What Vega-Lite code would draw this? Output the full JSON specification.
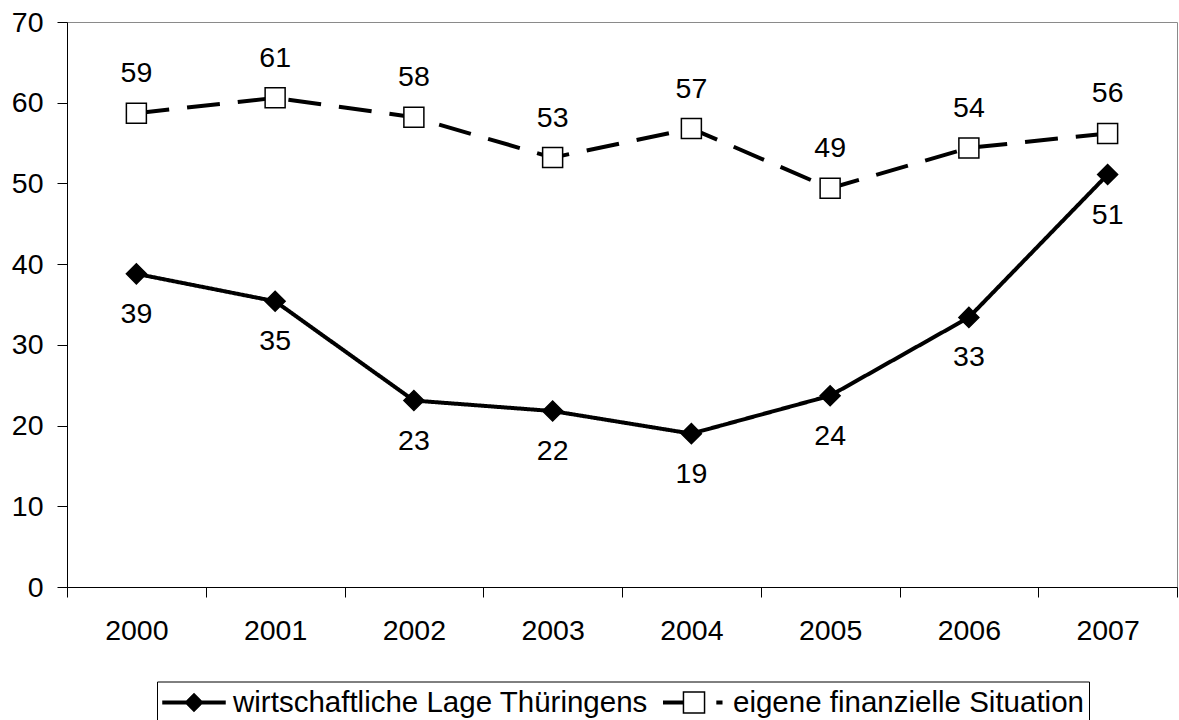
{
  "$schema": "https://vega.github.io/schema/vega-lite/v6.json",
  "width": 1110,
  "height": 565,
  "autosize": "none",
  "padding": {"left": 67, "top": 22, "right": 2, "bottom": 133},
  "background": "white",
  "config": {
    "font": "Liberation Sans",
    "view": {"stroke": "#8a8a8a", "strokeWidth": 1}
  },
  "data": {
    "values": [
      {"year": "2000", "series": "wirtschaftliche Lage Thüringens", "value": 38.8},
      {"year": "2001", "series": "wirtschaftliche Lage Thüringens", "value": 35.4},
      {"year": "2002", "series": "wirtschaftliche Lage Thüringens", "value": 23.1},
      {"year": "2003", "series": "wirtschaftliche Lage Thüringens", "value": 21.8},
      {"year": "2004", "series": "wirtschaftliche Lage Thüringens", "value": 19.0},
      {"year": "2005", "series": "wirtschaftliche Lage Thüringens", "value": 23.7},
      {"year": "2006", "series": "wirtschaftliche Lage Thüringens", "value": 33.4},
      {"year": "2007", "series": "wirtschaftliche Lage Thüringens", "value": 51.1},
      {"year": "2000", "series": "eigene finanzielle Situation", "value": 58.7},
      {"year": "2001", "series": "eigene finanzielle Situation", "value": 60.6},
      {"year": "2002", "series": "eigene finanzielle Situation", "value": 58.2},
      {"year": "2003", "series": "eigene finanzielle Situation", "value": 53.2},
      {"year": "2004", "series": "eigene finanzielle Situation", "value": 56.8},
      {"year": "2005", "series": "eigene finanzielle Situation", "value": 49.4},
      {"year": "2006", "series": "eigene finanzielle Situation", "value": 54.4},
      {"year": "2007", "series": "eigene finanzielle Situation", "value": 56.2}
    ]
  },
  "encoding": {
    "x": {
      "field": "year",
      "type": "ordinal",
      "scale": {"type": "band", "paddingInner": 0, "paddingOuter": 0},
      "axis": {
        "title": null,
        "labelAngle": 0,
        "labelFontSize": 28.5,
        "labelColor": "black",
        "labelPadding": 19,
        "tickBand": "extent",
        "tickSize": 10,
        "tickColor": "black",
        "domainColor": "black",
        "grid": false
      }
    },
    "y": {
      "field": "value",
      "type": "quantitative",
      "scale": {"domain": [0, 70], "nice": false},
      "axis": {
        "title": null,
        "values": [0, 10, 20, 30, 40, 50, 60, 70],
        "labelFontSize": 28.5,
        "labelColor": "black",
        "labelPadding": 14,
        "tickSize": 10,
        "tickColor": "black",
        "domainColor": "black",
        "grid": false
      }
    }
  },
  "layer": [
    {
      "mark": {"type": "line", "strokeWidth": 4, "color": "black"},
      "encoding": {
        "strokeDash": {
          "field": "series",
          "type": "nominal",
          "scale": {
            "domain": ["wirtschaftliche Lage Thüringens", "eigene finanzielle Situation"],
            "range": [[1, 0], [33, 18]]
          },
          "legend": null
        }
      }
    },
    {
      "mark": {"type": "point", "filled": true, "size": 400, "stroke": "black", "strokeWidth": 1.5, "opacity": 1},
      "encoding": {
        "shape": {
          "field": "series",
          "type": "nominal",
          "scale": {
            "domain": ["wirtschaftliche Lage Thüringens", "eigene finanzielle Situation"],
            "range": ["diamond", "square"]
          },
          "legend": null
        },
        "fill": {
          "field": "series",
          "type": "nominal",
          "scale": {
            "domain": ["wirtschaftliche Lage Thüringens", "eigene finanzielle Situation"],
            "range": ["black", "white"]
          },
          "legend": null
        }
      }
    },
    {
      "transform": [{"filter": "datum.series === 'wirtschaftliche Lage Thüringens'"}],
      "mark": {"type": "text", "dy": 40, "fontSize": 28.5, "color": "black"},
      "encoding": {"text": {"field": "value", "type": "quantitative", "format": ".0f"}}
    },
    {
      "transform": [{"filter": "datum.series === 'eigene finanzielle Situation'"}],
      "mark": {"type": "text", "dy": -40, "fontSize": 28.5, "color": "black"},
      "encoding": {"text": {"field": "value", "type": "quantitative", "format": ".0f"}}
    },
    {
      "mark": {"type": "point", "filled": true, "opacity": 0, "stroke": "black", "strokeWidth": 1.5},
      "encoding": {
        "fill": {
          "field": "series",
          "type": "nominal",
          "scale": {
            "domain": ["wirtschaftliche Lage Thüringens", "eigene finanzielle Situation"],
            "range": ["#000000", "#ffffff"]
          },
          "legend": {
            "title": null,
            "orient": "none",
            "legendX": 90,
            "legendY": 659.5,
            "direction": "horizontal",
            "strokeColor": "black",
            "padding": 5,
            "symbolSize": 3844,
            "symbolStrokeWidth": 1.5,
            "symbolStrokeColor": "black",
            "labelFontSize": 29.5,
            "labelColor": "black",
            "labelLimit": 0,
            "labelOffset": 7,
            "columnPadding": 14,
            "clipHeight": 32,
            "encode": {
              "symbols": {
                "update": {
                  "opacity": {"value": 1},
                  "stroke": {"value": "black"},
                  "strokeWidth": {"value": 1.5}
                }
              }
            }
          }
        },
        "shape": {
          "field": "series",
          "type": "nominal",
          "scale": {
            "domain": ["wirtschaftliche Lage Thüringens", "eigene finanzielle Situation"],
            "range": [
              "M-1,-0.04H1V0.04H-1Z M0,-0.28L0.28,0L0,0.28L-0.28,0Z",
              "M-1,-0.04H-0.34M-1,0H-0.34M-1,0.04H-0.34 M-0.34,-0.34H0.34V0.34H-0.34Z M0.72,-0.04H0.92M0.72,0H0.92M0.72,0.04H0.92"
            ]
          },
          "legend": {
            "title": null,
            "orient": "none",
            "legendX": 90,
            "legendY": 659.5,
            "direction": "horizontal",
            "strokeColor": "black",
            "padding": 5,
            "symbolSize": 3844,
            "symbolStrokeWidth": 1.5,
            "symbolStrokeColor": "black",
            "labelFontSize": 29.5,
            "labelColor": "black",
            "labelLimit": 0,
            "labelOffset": 7,
            "columnPadding": 14,
            "clipHeight": 32,
            "encode": {
              "symbols": {
                "update": {
                  "opacity": {"value": 1},
                  "stroke": {"value": "black"},
                  "strokeWidth": {"value": 1.5}
                }
              }
            }
          }
        }
      }
    }
  ],
  "resolve": {"scale": {"shape": "independent", "fill": "independent"}}
}
